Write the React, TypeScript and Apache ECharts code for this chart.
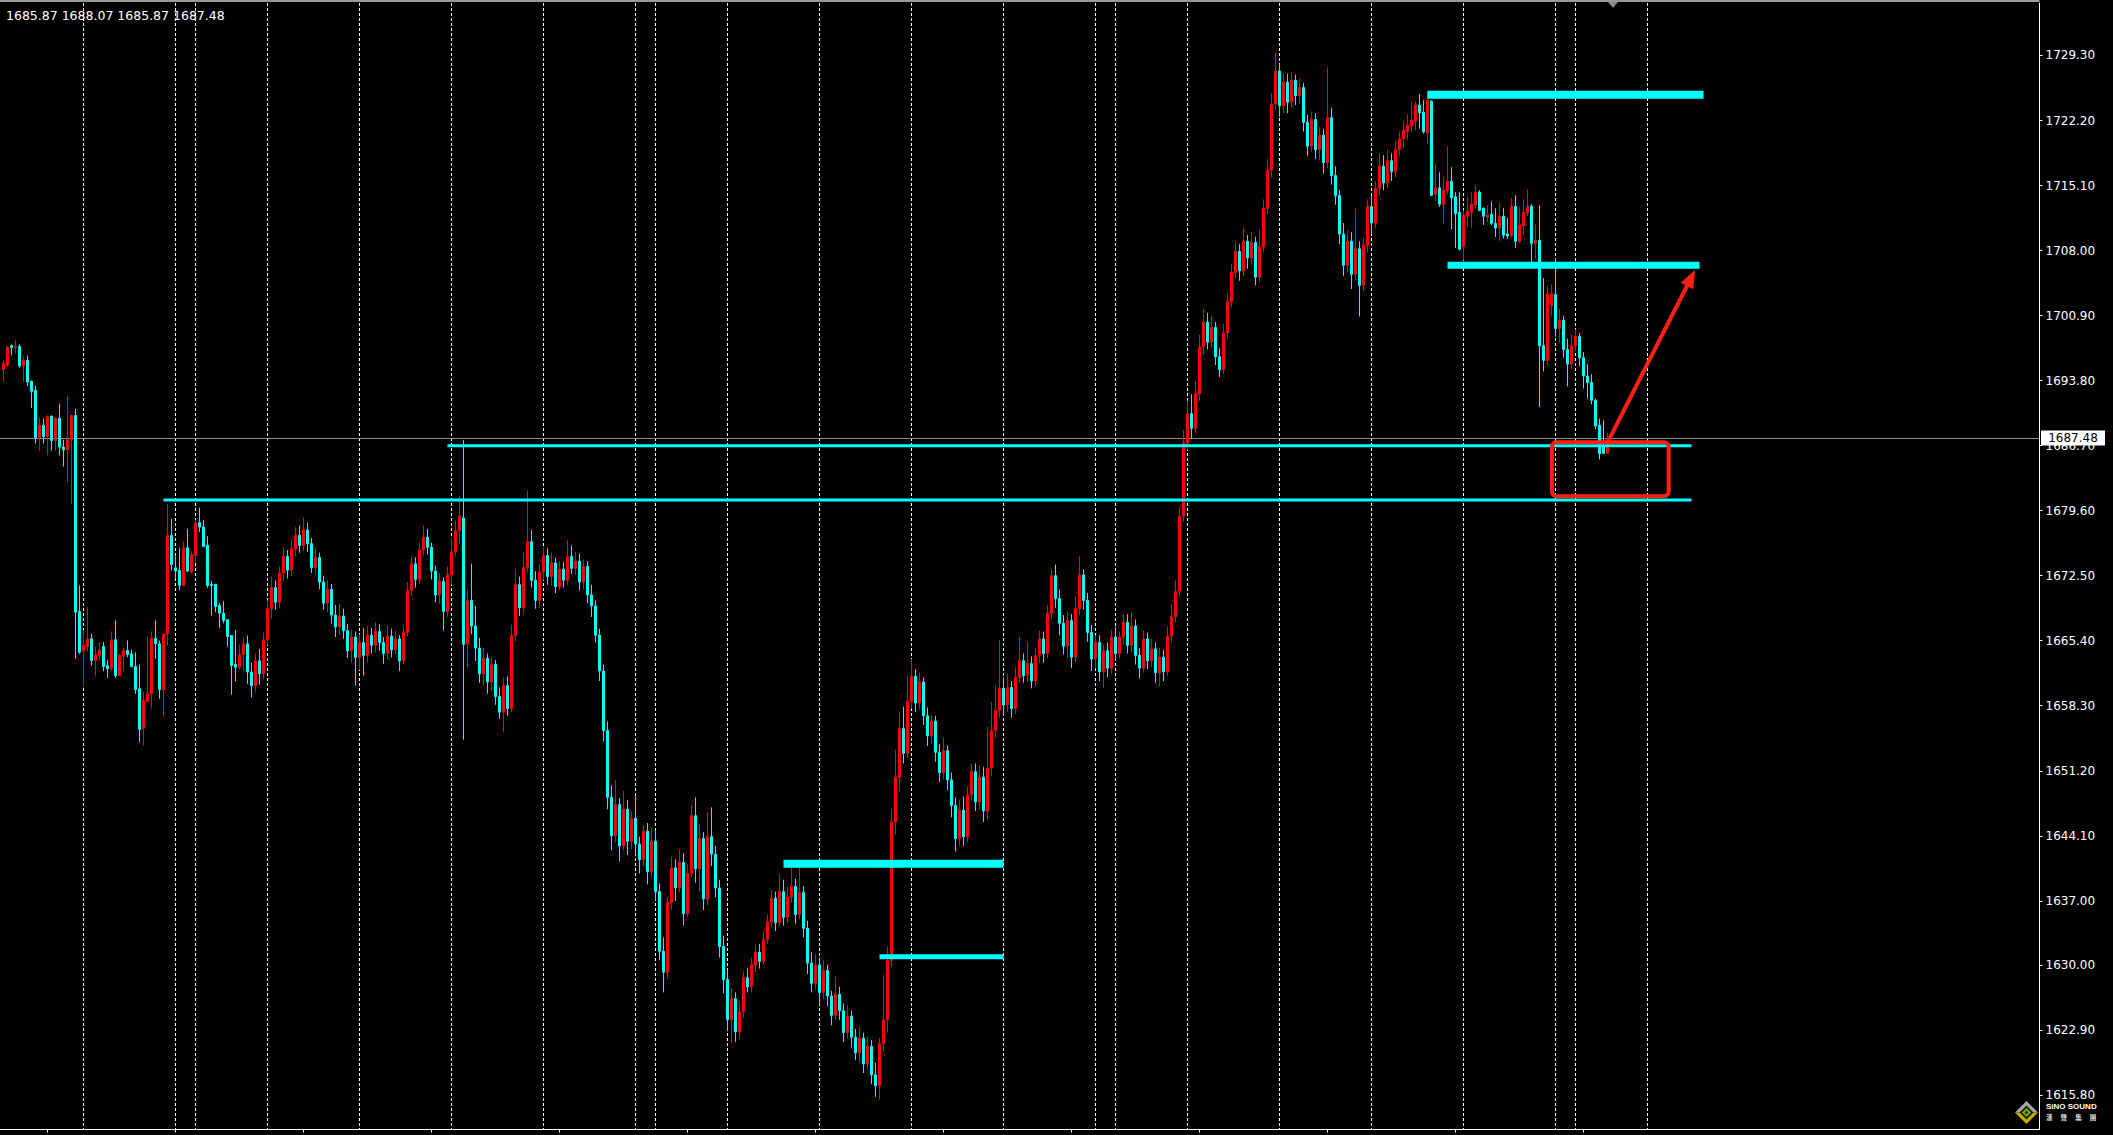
import React, { useEffect, useRef } from "react";
import * as echarts from "echarts";

// Each bar: [open, close, low, high] — hourly XAUUSD candles, one array per trading session
type Bar = [number, number, number, number];

const day01: Bar[] = [
  [1695.03, 1695.65, 1693.65, 1696.01], [1695.47, 1697.47, 1695.3, 1697.58], [1697.65, 1697.4, 1696.56, 1697.7],
  [1697.4, 1697.54, 1696.81, 1698.2], [1697.54, 1695.39, 1695.21, 1697.76], [1695.39, 1696.01, 1693.65, 1696.45],
  [1696.01, 1693.65, 1693.21, 1696.56], [1693.72, 1692.63, 1690.81, 1693.8], [1692.74, 1687.56, 1686.91, 1693.28],
  [1687.56, 1688.91, 1686.11, 1689.75], [1688.91, 1687.71, 1686.91, 1689.64], [1687.71, 1689.9, 1685.63, 1690.0],
  [1689.9, 1687.27, 1686.18, 1690.0], [1687.27, 1689.71, 1686.18, 1689.82], [1689.68, 1686.55, 1685.63, 1691.28],
  [1686.55, 1686.25, 1684.43, 1687.35], [1686.25, 1687.35, 1682.72, 1692.08], [1687.35, 1690.0, 1680.35, 1690.1],
  [1690.0, 1668.52, 1663.42, 1690.73], [1668.59, 1664.15, 1663.97, 1671.43],
];
const day02: Bar[] = [
  [1664.26, 1664.88, 1660.4, 1666.52], [1664.77, 1665.61, 1664.26, 1669.07], [1665.61, 1663.24, 1662.69, 1666.15],
  [1663.24, 1663.9, 1661.49, 1664.77], [1663.79, 1664.41, 1663.24, 1665.24], [1664.77, 1662.58, 1662.07, 1665.24],
  [1662.69, 1662.33, 1661.35, 1663.31], [1662.33, 1665.5, 1662.15, 1666.41], [1665.5, 1661.6, 1661.35, 1667.61],
  [1661.6, 1663.79, 1661.55, 1663.97], [1663.68, 1664.33, 1662.15, 1664.59], [1664.33, 1663.9, 1663.6, 1665.42],
  [1663.97, 1662.58, 1662.51, 1664.41], [1662.58, 1660.07, 1659.6, 1664.15], [1660.15, 1655.7, 1654.32, 1662.8],
  [1655.85, 1658.87, 1653.95, 1659.78], [1658.8, 1659.6, 1658.69, 1665.86], [1659.6, 1665.68, 1658.03, 1666.41],
  [1665.68, 1665.06, 1663.42, 1667.61], [1665.06, 1660.04, 1659.05, 1665.42], [1660.04, 1666.15, 1657.12, 1666.2],
  [1666.15, 1676.9, 1664.88, 1680.35], [1676.9, 1673.73, 1673.07, 1678.72],
];
const day03: Bar[] = [
  [1673.36, 1673.0, 1672.27, 1674.6], [1673.07, 1671.43, 1670.89, 1675.55], [1671.43, 1675.55, 1671.32, 1676.24],
  [1675.55, 1673.0, 1672.89, 1677.62], [1672.89, 1674.82, 1672.7, 1675.18],
];
const day04: Bar[] = [
  [1674.71, 1678.28, 1673.98, 1678.61], [1678.28, 1677.81, 1677.26, 1679.92], [1677.81, 1675.69, 1675.62, 1678.61],
  [1675.8, 1671.43, 1671.18, 1676.79], [1671.54, 1671.43, 1668.16, 1671.91], [1671.54, 1669.14, 1668.52, 1671.6],
  [1669.25, 1668.41, 1666.77, 1669.5], [1668.41, 1667.61, 1667.32, 1669.72], [1667.68, 1665.86, 1664.77, 1667.7],
  [1665.97, 1662.69, 1659.53, 1666.0], [1662.8, 1662.51, 1660.98, 1666.59], [1662.51, 1663.9, 1662.22, 1664.99],
  [1663.9, 1665.06, 1662.07, 1665.72], [1665.06, 1661.97, 1660.69, 1665.97], [1661.97, 1660.5, 1659.2, 1663.0],
  [1660.5, 1663.2, 1659.8, 1664.0], [1663.2, 1661.8, 1660.6, 1664.5], [1661.8, 1665.5, 1661.2, 1666.3],
];
const day05: Bar[] = [
  [1665.5, 1668.9, 1664.9, 1669.8], [1668.9, 1671.2, 1667.8, 1672.4], [1671.2, 1669.6, 1668.8, 1672.0],
  [1669.6, 1672.8, 1669.0, 1673.5], [1672.8, 1674.6, 1671.9, 1675.6], [1674.6, 1673.1, 1672.2, 1675.3],
  [1673.1, 1675.4, 1672.5, 1676.5], [1675.4, 1676.9, 1674.6, 1677.8], [1676.9, 1675.8, 1675.0, 1678.0],
  [1675.8, 1677.5, 1675.2, 1678.9], [1677.5, 1676.0, 1675.1, 1678.3], [1676.0, 1673.4, 1672.8, 1676.6],
  [1673.4, 1674.5, 1672.6, 1675.6], [1674.5, 1671.8, 1671.0, 1675.0], [1671.8, 1669.5, 1668.8, 1672.5],
  [1669.5, 1671.0, 1668.5, 1672.0], [1671.0, 1668.2, 1667.3, 1671.6], [1668.2, 1666.9, 1665.8, 1669.3],
  [1666.9, 1668.1, 1666.0, 1669.4], [1668.1, 1666.5, 1665.6, 1668.9], [1666.5, 1664.3, 1663.5, 1667.2],
  [1664.3, 1665.8, 1663.0, 1666.6], [1665.8, 1663.6, 1660.5, 1666.4],
];
const day06: Bar[] = [
  [1663.6, 1665.2, 1662.2, 1666.1], [1665.2, 1663.8, 1661.6, 1666.8], [1663.8, 1666.0, 1663.0, 1667.0],
  [1666.0, 1664.9, 1664.0, 1666.8], [1664.9, 1666.4, 1664.1, 1667.4], [1666.4, 1665.2, 1664.3, 1667.2],
  [1665.2, 1664.0, 1662.9, 1665.8], [1664.0, 1665.9, 1663.4, 1667.1], [1665.9, 1664.4, 1663.6, 1666.7],
  [1664.4, 1665.6, 1663.9, 1666.5], [1665.6, 1663.2, 1662.1, 1666.0], [1663.2, 1666.3, 1662.8, 1667.0],
  [1666.3, 1670.9, 1665.9, 1671.8], [1670.9, 1673.8, 1670.3, 1674.6], [1673.8, 1672.1, 1671.2, 1674.5],
  [1672.1, 1675.3, 1671.6, 1676.1], [1675.3, 1676.7, 1674.7, 1678.0], [1676.7, 1675.6, 1674.8, 1677.6],
  [1675.6, 1673.0, 1672.1, 1676.1], [1673.0, 1670.4, 1669.6, 1673.6], [1670.4, 1671.9, 1669.4, 1672.8],
  [1671.9, 1668.6, 1666.5, 1672.3], [1668.6, 1672.6, 1668.0, 1673.5],
];
const day07: Bar[] = [
  [1672.6, 1675.1, 1671.5, 1676.6], [1675.1, 1677.4, 1674.6, 1678.5], [1677.4, 1679.0, 1676.0, 1681.2],
  [1678.8, 1665.0, 1654.6, 1687.3], [1665.0, 1669.8, 1662.5, 1671.0], [1669.8, 1667.0, 1666.1, 1673.8],
  [1667.0, 1664.6, 1663.2, 1669.2], [1664.6, 1661.8, 1660.8, 1665.7], [1661.8, 1663.5, 1660.4, 1664.6],
  [1663.5, 1660.9, 1659.6, 1664.0], [1660.9, 1662.8, 1659.9, 1663.6], [1662.8, 1659.3, 1658.4, 1663.3],
  [1659.3, 1657.6, 1656.9, 1660.3], [1657.6, 1660.5, 1655.4, 1661.4], [1660.5, 1658.0, 1657.2, 1661.5],
  [1658.0, 1666.0, 1657.6, 1667.1], [1666.0, 1671.5, 1665.3, 1673.2], [1671.5, 1669.0, 1668.1, 1672.4],
  [1669.0, 1673.4, 1668.3, 1675.0], [1673.4, 1676.2, 1672.8, 1681.8], [1676.2, 1672.0, 1671.2, 1677.5],
  [1672.0, 1669.8, 1668.9, 1673.0], [1669.8, 1672.9, 1669.0, 1673.8],
];
const day08: Bar[] = [
  [1672.9, 1674.7, 1672.0, 1675.6], [1674.7, 1672.4, 1671.5, 1675.5], [1672.4, 1673.9, 1671.4, 1675.0],
  [1673.9, 1671.3, 1670.6, 1674.5], [1671.3, 1673.2, 1670.9, 1674.1], [1673.2, 1672.0, 1671.2, 1674.0],
  [1672.0, 1674.6, 1671.5, 1676.4], [1674.6, 1673.3, 1672.7, 1675.8], [1673.3, 1674.1, 1672.6, 1675.1],
  [1674.1, 1671.8, 1670.9, 1674.9], [1671.8, 1673.5, 1671.0, 1674.3], [1673.5, 1670.4, 1669.5, 1674.1],
  [1670.4, 1669.2, 1668.0, 1671.5], [1669.2, 1666.0, 1665.2, 1669.8], [1666.0, 1662.1, 1661.0, 1666.7],
  [1662.1, 1655.6, 1654.4, 1662.8], [1655.6, 1648.3, 1647.0, 1656.6], [1648.3, 1644.1, 1642.5, 1649.6],
  [1644.1, 1647.5, 1643.4, 1650.2], [1647.5, 1643.0, 1641.3, 1648.2], [1643.0, 1647.0, 1642.5, 1649.0],
  [1647.0, 1643.5, 1642.0, 1648.0], [1643.5, 1646.0, 1642.7, 1646.8],
];
const day09: Bar[] = [
  [1646.0, 1643.2, 1642.0, 1648.4], [1643.2, 1641.5, 1640.0, 1644.0], [1641.5, 1644.6, 1640.8, 1645.3],
  [1644.6, 1640.2, 1638.8, 1645.5], [1640.2, 1643.5, 1639.5, 1645.0],
];
const day10: Bar[] = [
  [1643.5, 1638.0, 1637.0, 1644.6], [1638.0, 1631.5, 1630.5, 1638.9], [1631.5, 1629.2, 1627.0, 1633.0],
  [1629.2, 1636.8, 1628.5, 1637.5], [1636.8, 1640.6, 1636.0, 1641.8], [1640.6, 1638.4, 1637.0, 1641.5],
  [1638.4, 1641.2, 1637.9, 1642.6], [1641.2, 1635.6, 1634.3, 1642.2], [1635.6, 1640.0, 1635.2, 1641.0],
  [1640.0, 1646.3, 1639.6, 1647.5], [1646.3, 1640.5, 1639.0, 1648.3], [1640.5, 1643.8, 1638.0, 1645.4],
  [1643.8, 1637.2, 1636.0, 1644.5], [1637.2, 1644.0, 1636.5, 1646.7], [1644.0, 1642.1, 1640.8, 1647.2],
  [1642.1, 1638.4, 1637.4, 1643.0], [1638.4, 1632.0, 1630.8, 1639.3], [1632.0, 1628.4, 1626.9, 1633.2],
];
const day11: Bar[] = [
  [1628.4, 1624.0, 1622.8, 1629.5], [1624.0, 1626.3, 1621.5, 1627.5], [1626.3, 1622.7, 1621.6, 1627.0],
  [1622.7, 1624.9, 1621.9, 1626.0], [1624.9, 1628.6, 1624.2, 1629.3], [1628.6, 1627.6, 1627.0, 1629.6],
  [1627.6, 1630.0, 1627.0, 1630.8], [1630.0, 1631.4, 1629.2, 1632.2], [1631.4, 1630.4, 1629.6, 1632.3],
  [1630.4, 1632.8, 1630.0, 1633.7], [1632.8, 1634.7, 1632.3, 1635.5], [1634.7, 1637.3, 1634.1, 1638.2],
  [1637.3, 1634.6, 1633.7, 1638.0], [1634.6, 1638.0, 1634.2, 1639.9], [1638.0, 1635.2, 1634.3, 1639.3],
  [1635.2, 1637.4, 1634.6, 1638.6], [1637.4, 1638.6, 1636.8, 1640.7], [1638.6, 1635.5, 1634.5, 1639.4],
  [1635.5, 1637.9, 1635.0, 1641.0], [1637.9, 1634.0, 1633.0, 1638.6], [1634.0, 1630.2, 1629.0, 1634.8],
  [1630.2, 1628.0, 1627.0, 1631.4], [1628.0, 1630.0, 1627.3, 1631.2],
];
const day12: Bar[] = [
  [1630.0, 1627.0, 1625.6, 1630.8], [1627.0, 1629.4, 1626.3, 1630.5], [1629.4, 1626.6, 1625.5, 1630.0],
  [1626.6, 1624.5, 1623.4, 1627.2], [1624.5, 1626.8, 1624.0, 1628.7], [1626.8, 1625.0, 1624.0, 1627.6],
  [1625.0, 1622.6, 1621.6, 1625.8], [1622.6, 1624.4, 1622.0, 1625.6], [1624.4, 1622.1, 1621.0, 1625.0],
  [1622.1, 1620.4, 1619.6, 1623.0], [1620.4, 1622.0, 1619.4, 1623.3], [1622.0, 1619.2, 1618.2, 1622.6],
  [1619.2, 1621.1, 1618.6, 1622.2], [1621.1, 1618.0, 1617.0, 1621.8], [1618.0, 1616.8, 1615.6, 1619.3],
  [1616.8, 1621.4, 1615.3, 1622.0], [1621.4, 1624.0, 1620.5, 1628.9], [1624.0, 1630.5, 1622.6, 1632.0],
  [1630.5, 1645.6, 1629.8, 1647.0], [1645.6, 1650.5, 1644.2, 1653.5], [1650.5, 1655.8, 1648.9, 1657.6],
  [1655.8, 1653.1, 1652.0, 1658.2], [1653.1, 1658.8, 1652.6, 1661.6],
];
const day13: Bar[] = [
  [1658.8, 1661.5, 1658.0, 1663.4], [1661.5, 1658.6, 1657.6, 1662.3], [1658.6, 1660.9, 1657.9, 1661.9],
  [1660.9, 1657.2, 1656.2, 1661.4], [1657.2, 1655.0, 1653.9, 1658.1], [1655.0, 1656.6, 1654.1, 1657.3],
  [1656.6, 1653.2, 1652.2, 1657.2], [1653.2, 1651.0, 1650.0, 1654.1], [1651.0, 1653.4, 1650.3, 1654.8],
  [1653.4, 1650.2, 1649.1, 1654.0], [1650.2, 1647.4, 1646.1, 1651.0], [1647.4, 1643.8, 1642.4, 1648.3],
  [1643.8, 1646.9, 1643.0, 1648.0], [1646.9, 1644.0, 1643.0, 1648.4], [1644.0, 1648.6, 1643.4, 1649.5],
  [1648.6, 1651.1, 1647.9, 1652.0], [1651.1, 1647.8, 1646.8, 1652.0], [1647.8, 1650.5, 1647.0, 1651.8],
  [1650.5, 1646.8, 1645.6, 1651.6], [1646.8, 1651.5, 1645.9, 1656.0], [1651.5, 1655.6, 1650.6, 1658.7],
  [1655.6, 1657.8, 1654.8, 1660.5], [1657.8, 1660.2, 1657.0, 1665.5],
];
const day14: Bar[] = [
  [1660.2, 1658.4, 1657.2, 1661.4], [1658.4, 1660.3, 1657.6, 1661.8], [1660.3, 1658.0, 1657.0, 1661.0],
  [1658.0, 1661.4, 1657.4, 1662.5], [1661.4, 1663.2, 1660.8, 1665.8], [1663.2, 1661.6, 1660.8, 1664.0],
  [1661.6, 1662.9, 1660.9, 1665.3], [1662.9, 1661.0, 1660.2, 1663.7], [1661.0, 1663.8, 1660.4, 1664.6],
  [1663.8, 1665.6, 1663.0, 1666.5], [1665.6, 1664.0, 1663.0, 1666.4], [1664.0, 1668.4, 1663.5, 1669.3],
  [1668.4, 1672.5, 1667.8, 1673.2], [1672.5, 1670.0, 1669.0, 1673.7], [1670.0, 1667.3, 1666.0, 1671.0],
  [1667.3, 1664.8, 1663.9, 1668.2], [1664.8, 1667.6, 1663.5, 1668.6], [1667.6, 1663.6, 1662.4, 1668.3],
  [1663.6, 1668.9, 1663.0, 1670.3], [1668.9, 1672.6, 1668.2, 1674.6], [1672.6, 1669.8, 1668.8, 1673.2],
  [1669.8, 1666.3, 1665.3, 1670.6], [1666.3, 1663.4, 1662.1, 1667.1],
];
const day15: Bar[] = [
  [1663.4, 1665.2, 1662.4, 1666.0], [1665.2, 1662.0, 1661.0, 1666.0], [1662.0, 1664.3, 1660.2, 1665.0],
  [1664.3, 1662.4, 1661.4, 1665.2], [1662.4, 1665.8, 1661.8, 1666.6],
];
const day16: Bar[] = [
  [1665.8, 1664.0, 1663.2, 1666.9], [1664.0, 1665.8, 1663.5, 1666.4], [1665.8, 1667.4, 1665.0, 1668.3],
  [1667.4, 1664.9, 1664.0, 1668.3], [1664.9, 1667.0, 1664.1, 1668.5], [1667.0, 1663.8, 1662.8, 1667.7],
  [1663.8, 1662.4, 1661.3, 1664.6], [1662.4, 1665.6, 1661.9, 1666.5], [1665.6, 1663.2, 1662.3, 1666.3],
  [1663.2, 1664.5, 1662.5, 1665.6], [1664.5, 1661.9, 1660.8, 1665.2], [1661.9, 1663.6, 1660.4, 1664.6],
  [1663.6, 1662.0, 1661.0, 1664.4], [1662.0, 1665.9, 1661.6, 1666.9], [1665.9, 1668.0, 1665.2, 1669.4],
  [1668.0, 1670.8, 1667.4, 1672.0], [1670.8, 1679.0, 1670.2, 1680.0], [1679.0, 1687.0, 1678.4, 1688.4],
];
const day17: Bar[] = [
  [1687.0, 1690.2, 1686.2, 1691.6], [1690.2, 1688.6, 1687.5, 1692.3], [1688.6, 1692.4, 1688.0, 1693.8],
  [1692.4, 1697.5, 1691.6, 1698.8], [1697.5, 1700.2, 1696.6, 1701.6], [1700.2, 1698.0, 1697.2, 1701.2],
  [1698.0, 1699.6, 1697.4, 1700.8], [1699.6, 1696.4, 1695.5, 1700.2], [1696.4, 1695.0, 1694.2, 1697.3],
  [1695.0, 1699.0, 1694.5, 1700.0], [1699.0, 1702.4, 1698.4, 1703.3], [1702.4, 1705.6, 1701.8, 1706.5],
  [1705.6, 1707.9, 1705.0, 1709.0], [1707.9, 1705.8, 1704.7, 1708.7], [1705.8, 1709.0, 1705.2, 1710.4],
  [1709.0, 1707.2, 1706.0, 1709.7], [1707.2, 1708.9, 1706.4, 1710.0], [1708.9, 1705.1, 1704.2, 1709.5],
  [1705.1, 1708.4, 1704.5, 1710.3], [1708.4, 1712.6, 1707.8, 1713.6], [1712.6, 1716.8, 1712.0, 1718.0],
  [1716.8, 1724.0, 1716.0, 1725.2], [1724.0, 1727.6, 1723.3, 1729.6],
];
const day18: Bar[] = [
  [1727.6, 1723.8, 1722.6, 1728.4], [1723.8, 1726.4, 1723.0, 1727.4], [1726.4, 1724.2, 1723.0, 1727.3],
  [1724.2, 1726.6, 1723.6, 1727.5], [1726.6, 1724.9, 1723.9, 1727.2], [1724.9, 1725.8, 1724.0, 1726.8],
  [1725.8, 1722.0, 1721.0, 1726.3], [1722.0, 1719.4, 1718.3, 1722.8], [1719.4, 1722.3, 1718.8, 1723.2],
  [1722.3, 1719.0, 1718.0, 1723.0], [1719.0, 1720.6, 1717.9, 1721.5], [1720.6, 1717.6, 1716.4, 1721.3],
  [1717.6, 1722.5, 1717.0, 1728.0], [1722.5, 1716.2, 1715.2, 1723.6], [1716.2, 1714.0, 1713.0, 1717.2],
  [1714.0, 1709.8, 1708.7, 1714.6], [1709.8, 1706.4, 1705.2, 1711.0], [1706.4, 1709.0, 1705.6, 1710.2],
  [1709.0, 1705.4, 1703.8, 1710.0], [1705.4, 1708.2, 1704.8, 1712.6], [1708.2, 1704.2, 1700.8, 1709.0],
  [1704.2, 1708.6, 1703.6, 1709.4], [1708.6, 1712.8, 1707.8, 1713.6],
];
const day19: Bar[] = [
  [1712.8, 1711.0, 1709.8, 1714.0], [1711.0, 1714.8, 1710.4, 1715.6], [1714.8, 1717.2, 1714.0, 1718.6],
  [1717.2, 1715.4, 1714.6, 1718.4], [1715.4, 1717.8, 1714.8, 1719.0], [1717.8, 1716.6, 1715.6, 1718.6],
  [1716.6, 1719.0, 1716.0, 1720.0], [1719.0, 1720.2, 1718.3, 1721.0], [1720.23, 1721.14, 1719.14, 1722.23],
  [1721.03, 1721.69, 1720.05, 1722.89], [1721.58, 1722.23, 1721.03, 1724.24], [1722.12, 1723.87, 1721.14, 1724.24],
  [1723.87, 1723.03, 1721.32, 1725.07], [1723.11, 1720.96, 1720.78, 1724.42], [1720.85, 1724.42, 1719.61, 1725.4],
  [1724.31, 1714.04, 1713.93, 1724.42], [1714.15, 1714.84, 1713.38, 1717.5], [1714.84, 1713.06, 1712.77, 1716.55],
  [1713.06, 1714.59, 1710.87, 1716.12], [1714.51, 1715.57, 1714.15, 1719.39], [1715.57, 1713.75, 1710.33, 1717.1],
  [1713.86, 1712.04, 1708.29, 1714.37], [1712.18, 1708.14, 1708.0, 1714.37],
];
const day20: Bar[] = [
  [1708.47, 1711.86, 1706.94, 1712.4], [1711.75, 1712.29, 1710.58, 1713.86], [1712.18, 1713.06, 1710.47, 1714.37],
  [1712.95, 1714.37, 1712.58, 1715.13], [1714.37, 1712.4, 1712.29, 1714.59], [1712.62, 1711.75, 1710.8, 1712.7],
  [1711.64, 1711.86, 1711.09, 1712.95], [1711.96, 1710.98, 1710.76, 1713.38], [1710.98, 1710.47, 1709.49, 1712.62],
  [1710.43, 1711.75, 1709.05, 1713.28], [1711.75, 1709.67, 1709.31, 1712.62], [1709.82, 1709.6, 1709.27, 1711.53],
  [1709.6, 1712.84, 1709.49, 1713.71], [1712.84, 1709.01, 1708.29, 1714.04], [1709.01, 1710.76, 1708.83, 1712.73],
  [1710.69, 1712.18, 1709.67, 1713.6], [1712.07, 1712.84, 1711.75, 1714.7], [1712.84, 1708.8, 1706.76, 1713.06],
  [1708.76, 1709.12, 1707.12, 1710.87], [1709.12, 1697.6, 1690.92, 1712.95], [1697.6, 1696.0, 1694.8, 1704.97],
  [1696.0, 1703.3, 1695.5, 1704.1], [1702.0, 1703.3, 1700.9, 1704.3],
];
const day21: Bar[] = [
  [1703.2, 1699.5, 1698.6, 1707.2], [1699.5, 1700.4, 1698.0, 1701.6], [1700.4, 1697.2, 1696.3, 1700.9],
  [1697.2, 1695.6, 1693.17, 1698.4], [1695.6, 1697.6, 1695.0, 1698.8],
];
const day22: Bar[] = [
  [1697.6, 1698.6, 1697.0, 1699.4], [1698.6, 1696.3, 1695.4, 1699.0], [1696.3, 1694.3, 1692.92, 1696.9],
  [1694.3, 1693.6, 1691.83, 1695.6], [1693.6, 1691.65, 1691.21, 1694.5], [1691.65, 1688.84, 1688.5, 1691.83],
  [1688.91, 1685.82, 1685.2, 1689.64], [1686.55, 1685.87, 1685.82, 1689.46], [1685.87, 1687.48, 1685.87, 1688.07],
];

const bars: Bar[] = [
  ...day01, ...day02, ...day03, ...day04, ...day05, ...day06, ...day07, ...day08, ...day09, ...day10, ...day11,
  ...day12, ...day13, ...day14, ...day15, ...day16, ...day17, ...day18, ...day19, ...day20, ...day21, ...day22,
];

// Bar slots on the time axis (the empty tail is the chart shift area)
const slotCount = 510;
// Bar indices where a new session starts (period separators)
const sessionStarts = [20, 43, 48, 66, 89, 112, 135, 158, 163, 181, 204, 227, 250, 273, 278, 296, 319, 342, 365, 388, 393, 411];
// Bar indices carrying a time-axis tick
const timeTickBars = [11, 43, 75, 107, 139, 171, 203, 235, 267, 299, 331, 363, 395];
// Price scale labels
const priceTicks = [
  1729.3, 1722.2, 1715.1, 1708.0, 1700.9, 1693.8, 1686.7, 1679.6, 1672.5,
  1665.4, 1658.3, 1651.2, 1644.1, 1637.0, 1630.0, 1622.9, 1615.8,
];
const priceMin = 1612.03;
const priceMax = 1735.03;

// Horizontal levels drawn on the chart: price, first bar, last bar
const levelPrices = [1686.7, 1680.77, 1725.0, 1706.4, 1641.05, 1630.89];
const levelFromBar = [111, 40, 356, 361, 195, 219];
const levelToBar = [422, 422, 425, 424, 250, 250];

// Highlighted zone (bars, prices) and the projection arrow (bars, prices)
const zoneBars = [387.1, 416.3];
const zonePrices = [1687.07, 1681.17];
const arrowBars = [401.1, 422.9];
const arrowPrices = [1687.1, 1705.88];

const FONT = "'DejaVu Sans', Verdana, sans-serif";
const W = 2113;
const H = 1135;
const GRID_LEFT = 3.5;
const GRID_RIGHT = 73.5;
const GRID_TOP = 3;
const GRID_BOTTOM = 5.5;
const PLOT_RIGHT = W - GRID_RIGHT;

const UP = "#ff0000";
const DOWN = "#00ffff";
const LEVEL = "#00ffff";
const MARK_RED = "#ff2015";

// Line weight and handle display for each level
const levelWidths = [3, 3, 8, 7, 8, 5];
const levelHandles = [true, true, false, false, false, false];

export default function App() {
  const ref = useRef<HTMLDivElement>(null);

  useEffect(() => {
    if (!ref.current) return;
    document.body.style.margin = "0";
    document.body.style.background = "#000";
    const chart = echarts.init(ref.current, undefined, { renderer: "svg", width: W, height: H });

    const sepSet = new Set(sessionStarts);
    const tickSet = new Set(timeTickBars);
    const slots = Array.from({ length: slotCount }, (_, i) => String(i));

    const levelSeries = levelPrices.map((p, k) => {
      const from = levelFromBar[k];
      const to = levelToBar[k];
      const handle = {
        symbol: "rect",
        symbolSize: [5, 8],
        itemStyle: { color: "#ffffff", borderColor: LEVEL, borderWidth: 1.5 },
      };
      const data = levelHandles[k]
        ? [
            { value: [from, p], ...handle },
            {
              value: [Math.round((from + to) / 2), p],
              symbol: "rect",
              symbolSize: [3, 3],
              itemStyle: { color: "#d8ffff", borderWidth: 0 },
            },
            { value: [to, p], ...handle },
          ]
        : [
            [from, p],
            [to, p],
          ];
      return {
        type: "line",
        data,
        z: 5,
        silent: true,
        showSymbol: levelHandles[k],
        symbol: levelHandles[k] ? "rect" : "none",
        lineStyle: { color: LEVEL, width: levelWidths[k], cap: "butt" },
        emphasis: { disabled: true },
      };
    });

    chart.setOption({
      animation: false,
      backgroundColor: "#000000",
      grid: { left: GRID_LEFT, right: GRID_RIGHT, top: GRID_TOP, bottom: GRID_BOTTOM },
      xAxis: {
        type: "category",
        data: slots,
        boundaryGap: false,
        axisLine: { show: true, lineStyle: { color: "#ffffff", width: 1 } },
        axisTick: {
          show: true,
          length: 3,
          interval: (i: number) => tickSet.has(i),
          lineStyle: { color: "#ffffff" },
        },
        axisLabel: { show: false },
        splitLine: {
          show: true,
          interval: (i: number) => sepSet.has(i),
          lineStyle: { color: "#ffffff", width: 1, type: [3, 2] },
        },
      },
      yAxis: {
        type: "value",
        position: "right",
        min: priceMin,
        max: priceMax,
        scale: true,
        axisLine: { show: true, lineStyle: { color: "#ffffff", width: 1 } },
        axisTick: { show: true, length: 3, customValues: priceTicks, lineStyle: { color: "#ffffff" } },
        axisLabel: {
          show: true,
          customValues: priceTicks,
          formatter: (v: number) => v.toFixed(2),
          color: "#ffffff",
          fontFamily: FONT,
          fontSize: 12,
          margin: 6,
        },
        splitLine: { show: false },
      },
      series: [
        {
          type: "candlestick",
          data: bars,
          barWidth: 2,
          clip: false,
          z: 3,
          silent: true,
          itemStyle: {
            color: UP,
            color0: DOWN,
            borderColor: UP,
            borderColor0: DOWN,
            borderWidth: 1,
          },
        },
        ...levelSeries,
      ],
    });

    const toPx = (bar: number, price: number): [number, number] => {
      const b0 = Math.floor(bar);
      const a = chart.convertToPixel({ gridIndex: 0 }, [b0, price]) as number[];
      const b = chart.convertToPixel({ gridIndex: 0 }, [b0 + 1, price]) as number[];
      return [a[0] + (b[0] - a[0]) * (bar - b0), a[1]];
    };

    const last = bars[bars.length - 1];
    const lastPrice = last[1];
    const infoText = [last[0], last[3], last[2], last[1]].map((v) => v.toFixed(2)).join(" ");
    const yLast = Math.round(toPx(0, lastPrice)[1] - 0.5) + 0.5;

    const [zx0, zy0] = toPx(zoneBars[0], zonePrices[0]);
    const [zx1, zy1] = toPx(zoneBars[1], zonePrices[1]);

    const [ax0, ay0] = toPx(arrowBars[0], arrowPrices[0]);
    const [ax1, ay1] = toPx(arrowBars[1], arrowPrices[1]);
    const dx = ax1 - ax0;
    const dy = ay1 - ay0;
    const len = Math.sqrt(dx * dx + dy * dy);
    const ux = dx / len;
    const uy = dy / len;
    const nx = -uy;
    const ny = ux;
    const headLen = 18;
    const headHalf = 7;
    const bx = ax1 - ux * headLen;
    const by = ay1 - uy * headLen;

    // Logo block in the lower right corner
    const lcx = 2026.5;
    const lcy = 1112.5;
    const diamond = (r: number) => [
      [lcx, lcy - r],
      [lcx + r, lcy],
      [lcx, lcy + r],
      [lcx - r, lcy],
    ];
    const logoChars = ["漢", "聲", "集", "團"];

    chart.setOption({
      graphic: [
        {
          type: "rect",
          shape: { x: 0, y: 0, width: PLOT_RIGHT, height: 2 },
          style: { fill: "#9a9a9a" },
          silent: true,
          z: 50,
        },
        {
          type: "line",
          shape: { x1: 0, y1: H - GRID_BOTTOM, x2: GRID_LEFT, y2: H - GRID_BOTTOM },
          style: { stroke: "#ffffff", lineWidth: 1 },
          silent: true,
          z: 50,
        },
        {
          type: "polygon",
          shape: { points: [[1608, 2], [1618, 2], [1613, 8]] },
          style: { fill: "#8a8a8a" },
          silent: true,
          z: 51,
        },
        {
          type: "text",
          x: 6,
          y: 15,
          style: { text: infoText, fill: "#ffffff", fontFamily: FONT, fontSize: 12.5, verticalAlign: "middle" },
          silent: true,
          z: 50,
        },
        {
          type: "line",
          shape: { x1: 0, y1: yLast, x2: PLOT_RIGHT, y2: yLast },
          style: { stroke: "#8c8c8c", lineWidth: 1 },
          silent: true,
          z: 2,
        },
        {
          type: "rect",
          shape: { x: PLOT_RIGHT + 1.5, y: yLast - 8, width: 64, height: 15 },
          style: { fill: "#ffffff" },
          silent: true,
          z: 60,
        },
        {
          type: "text",
          x: PLOT_RIGHT + 33.5,
          y: yLast - 0.5,
          style: {
            text: lastPrice.toFixed(2),
            fill: "#000000",
            fontFamily: FONT,
            fontSize: 12,
            align: "center",
            verticalAlign: "middle",
          },
          silent: true,
          z: 61,
        },
        {
          type: "rect",
          shape: { x: zx0, y: zy0, width: zx1 - zx0, height: zy1 - zy0, r: 5 },
          style: { fill: "none", stroke: MARK_RED, lineWidth: 4 },
          silent: true,
          z: 40,
        },
        {
          type: "line",
          shape: { x1: ax0, y1: ay0, x2: bx + ux * 2, y2: by + uy * 2 },
          style: { stroke: MARK_RED, lineWidth: 4 },
          silent: true,
          z: 40,
        },
        {
          type: "polygon",
          shape: {
            points: [
              [ax1, ay1],
              [bx + nx * headHalf, by + ny * headHalf],
              [bx - nx * headHalf, by - ny * headHalf],
            ],
          },
          style: { fill: MARK_RED },
          silent: true,
          z: 40,
        },
        {
          type: "polygon",
          shape: { points: [[lcx - 11.5, lcy], [lcx, lcy - 11.5], [lcx + 11.5, lcy]] },
          style: { fill: "#a6a6a6" },
          silent: true,
          z: 50,
        },
        {
          type: "polygon",
          shape: { points: [[lcx - 11.5, lcy], [lcx + 11.5, lcy], [lcx, lcy + 11.5]] },
          style: { fill: "#c9a900" },
          silent: true,
          z: 50,
        },
        { type: "polygon", shape: { points: diamond(7) }, style: { fill: "#1c1c1c" }, silent: true, z: 51 },
        { type: "polygon", shape: { points: diamond(4.5) }, style: { fill: "#76b000" }, silent: true, z: 52 },
        { type: "polygon", shape: { points: diamond(2) }, style: { fill: "#233d00" }, silent: true, z: 53 },
        {
          type: "text",
          x: 2046,
          y: 1106.5,
          style: {
            text: "SiNO SOUND",
            fill: "#ffffff",
            fontFamily: "'Liberation Sans', Arial, sans-serif",
            fontWeight: "bold",
            fontSize: 8,
            verticalAlign: "middle",
          },
          silent: true,
          z: 50,
        },
        ...logoChars.map((ch, k) => ({
          type: "text",
          x: 2046 + k * 14.6,
          y: 1116.5,
          style: {
            text: ch,
            fill: "#e0e0e0",
            fontFamily: "'Noto Sans CJK TC', sans-serif",
            fontWeight: "bold",
            fontSize: 6.5,
            verticalAlign: "middle",
          },
          silent: true,
          z: 50,
        })),
      ],
    });

    return () => chart.dispose();
  }, []);

  return (
    <div
      ref={ref}
      style={{ position: "fixed", left: 0, top: 0, width: W, height: H, background: "#000" }}
    />
  );
}
